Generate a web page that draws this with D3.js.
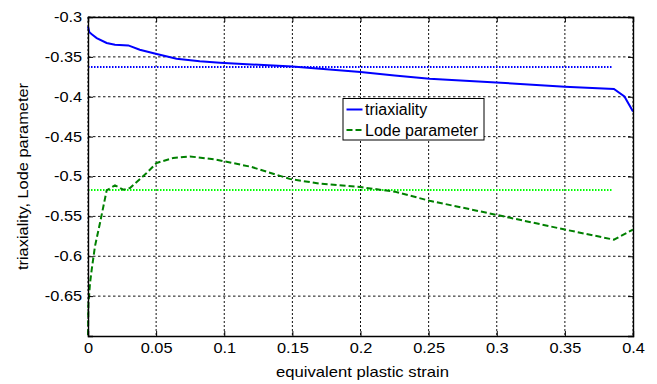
<!DOCTYPE html>
<html>
<head>
<meta charset="utf-8">
<script src="https://cdn.jsdelivr.net/npm/d3@7"></script>
<style>
  body { margin: 0; background: #fff; }
  svg { display: block; font-family: "Liberation Sans", Arial, Helvetica, sans-serif; }
</style>
</head>
<body>
<svg id="chart"></svg>
<script>
// equivalent plastic strain samples for each curve
const triaxStrain = [0, 0.001, 0.003, 0.0064, 0.0137, 0.0198, 0.0296, 0.038, 0.0504, 0.065, 0.082, 0.0968,
  0.12, 0.15, 0.175, 0.2, 0.225, 0.2507, 0.2996, 0.35, 0.386, 0.3937, 0.4];
const triaxiality = [-0.3118, -0.319, -0.322, -0.3264, -0.3326, -0.3347, -0.3356, -0.341, -0.3464, -0.3523, -0.3556, -0.3573,
  -0.3595, -0.3622, -0.3655, -0.3690, -0.3735, -0.3774, -0.382, -0.3874, -0.3903, -0.3996, -0.4184];

const lodeStrain = [0, 0.0003, 0.0015, 0.0027, 0.0051, 0.0088, 0.0137, 0.0198, 0.0259, 0.0308, 0.043, 0.0504,
  0.0625, 0.0748, 0.0943, 0.12, 0.148, 0.17, 0.2, 0.225, 0.2507, 0.2996, 0.35, 0.386, 0.4];
const lodeParam = [-0.699, -0.66, -0.6335, -0.617, -0.5876, -0.5583, -0.5174, -0.5111, -0.5166, -0.5144, -0.4956, -0.483,
  -0.4768, -0.4748, -0.4789, -0.488, -0.503, -0.509, -0.5133, -0.519, -0.5304, -0.548, -0.5665, -0.5792, -0.5666];

// averages, drawn as dotted lines
const avgStrain = [0, 0.385];
const triaxAvg = -0.3627;
const lodeAvg = -0.5169;

const xTicks = [0, 0.05, 0.1, 0.15, 0.2, 0.25, 0.3, 0.35, 0.4];
const xTickLabels = ['0', '0.05', '0.1', '0.15', '0.2', '0.25', '0.3', '0.35', '0.4'];
const yTicks = [-0.65, -0.6, -0.55, -0.5, -0.45, -0.4, -0.35, -0.3];
const yTickLabels = ['-0.65', '-0.6', '-0.55', '-0.5', '-0.45', '-0.4', '-0.35', '-0.3'];

const legendNames = ['triaxiality', 'Lode parameter'];

const W = 657, H = 384;
const margin = {top: 17, right: 24, bottom: 48, left: 88};
const width = W - margin.left - margin.right;
const height = H - margin.top - margin.bottom;
const stretch = 'scale(1.17,1)';

const svg = d3.select('#chart').attr('width', W).attr('height', H);
const chart = svg.append('g').attr('transform', `translate(${margin.left},${margin.top})`);

const x = d3.scaleLinear().domain([0, 0.4]).range([0, width]);
const y = d3.scaleLinear().domain([-0.7, -0.3]).range([height, 0]);

// grid
chart.append('g').selectAll('line').data(xTicks).join('line')
  .attr('x1', d => x(d)).attr('x2', d => x(d))
  .attr('y1', 0).attr('y2', height)
  .attr('stroke', '#111').attr('stroke-width', 1).attr('stroke-dasharray', '2,2');
chart.append('g').selectAll('line').data(yTicks).join('line')
  .attr('x1', 0).attr('x2', width)
  .attr('y1', d => y(d)).attr('y2', d => y(d))
  .attr('stroke', '#111').attr('stroke-width', 1).attr('stroke-dasharray', '2.5,2.5');

const line = d3.line().x(d => x(d[0])).y(d => y(d[1]));

// averages
chart.append('path')
  .datum(avgStrain.map(s => [s, triaxAvg]))
  .attr('d', line).attr('fill', 'none')
  .attr('stroke', '#0000ff').attr('stroke-width', 2).attr('stroke-dasharray', '1.5,1.5');
chart.append('path')
  .datum(avgStrain.map(s => [s, lodeAvg]))
  .attr('d', line).attr('fill', 'none')
  .attr('stroke', '#00ff00').attr('stroke-width', 2).attr('stroke-dasharray', '1.5,1.5');

// curves
chart.append('path')
  .datum(triaxStrain.map((s, i) => [s, triaxiality[i]]))
  .attr('d', line).attr('fill', 'none')
  .attr('stroke', '#0000ff').attr('stroke-width', 2);
chart.append('path')
  .datum(lodeStrain.map((s, i) => [s, lodeParam[i]]))
  .attr('d', line).attr('fill', 'none')
  .attr('stroke', '#008000').attr('stroke-width', 2).attr('stroke-dasharray', '6,3');

// axes, ticks pointing inward
const xAxis = d3.axisBottom(x).tickValues(xTicks).tickFormat((d, i) => xTickLabels[i])
  .tickSize(-5).tickPadding(7.5);
const yAxis = d3.axisLeft(y).tickValues(yTicks).tickFormat((d, i) => yTickLabels[i])
  .tickSize(-5).tickPadding(5);

const xAxisG = chart.append('g').attr('transform', `translate(0,${height})`).call(xAxis);
const yAxisG = chart.append('g').call(yAxis);
chart.append('g')
  .call(d3.axisTop(x).tickValues(xTicks).tickFormat('').tickSize(-5));
chart.append('g').attr('transform', `translate(${width},0)`)
  .call(d3.axisRight(y).tickValues(yTicks).tickFormat('').tickSize(-5));

chart.selectAll('.domain').attr('stroke', '#000').attr('stroke-width', 1.4);
chart.selectAll('.tick line').attr('stroke', '#000');
[xAxisG, yAxisG].forEach(g => g.selectAll('text')
  .attr('font-size', 14).attr('font-family', '"Liberation Sans", Arial, sans-serif')
  .attr('fill', '#000').attr('transform', stretch));

// axis titles
svg.append('text')
  .attr('transform', `translate(${margin.left + width / 2 + 2},377) scale(1.19,1)`)
  .attr('text-anchor', 'middle').attr('font-size', 14)
  .text('equivalent plastic strain');
svg.append('text')
  .attr('transform', `translate(28,${margin.top + height / 2}) rotate(-90) ${stretch}`)
  .attr('text-anchor', 'middle').attr('font-size', 14)
  .text('triaxiality, Lode parameter');

// legend
const legend = svg.append('g').attr('transform', 'translate(343,98.5)');
legend.append('rect').attr('width', 141).attr('height', 41.5)
  .attr('fill', '#fff').attr('stroke', '#000').attr('stroke-width', 1);
const rows = legend.selectAll('g.row').data(legendNames).join('g')
  .attr('class', 'row').attr('transform', (d, i) => `translate(0,${11 + i * 20.5})`);
rows.append('line').attr('x1', 3.5).attr('x2', 19.5).attr('y1', 0).attr('y2', 0)
  .attr('stroke', (d, i) => i === 0 ? '#0000ff' : '#008000')
  .attr('stroke-width', 2)
  .attr('stroke-dasharray', (d, i) => i === 0 ? null : '6,3');
rows.append('text').attr('x', 22).attr('y', 5.5)
  .attr('font-size', 16).text(d => d);
</script>
</body>
</html>
